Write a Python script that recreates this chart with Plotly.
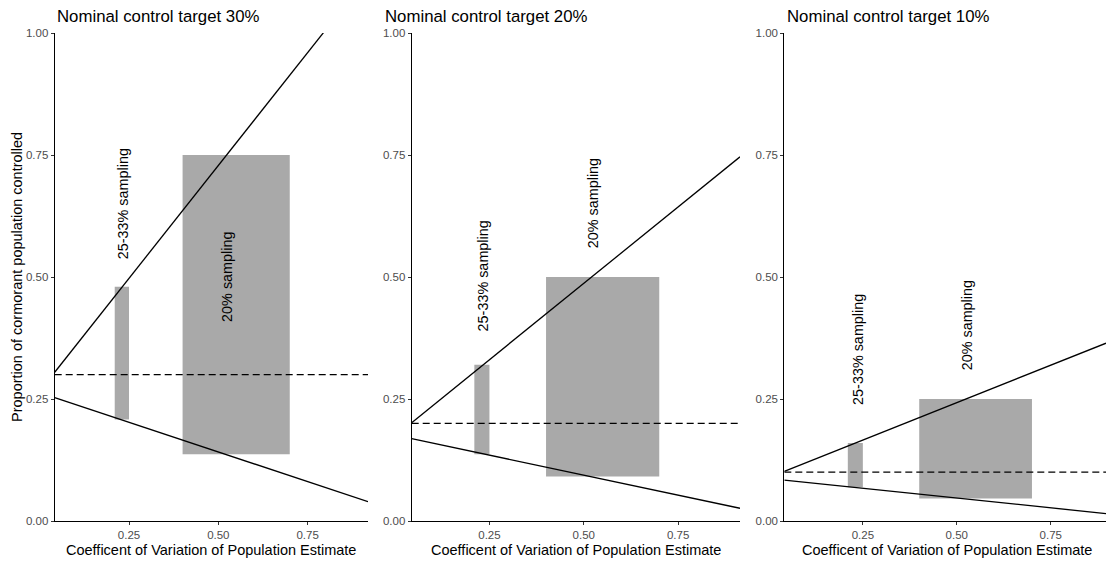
import numpy as np
import plotly.graph_objects as go

# ---- data -------------------------------------------------------------
targets = [0.30, 0.20, 0.10]
panel_titles = ["Nominal control target 30%", "Nominal control target 20%", "Nominal control target 10%"]

# upper / lower bound lines (intercept, slope) per panel
upper_intercept = [0.266, 0.174, 0.089]
upper_slope = [0.925, 0.626, 0.307]
lower_intercept = [0.263, 0.176, 0.087]
lower_slope = [-0.243, -0.164, -0.080]

# sampling ranges: x extent is shared, y extent per panel
narrow_x = [0.21, 0.25]
wide_x = [0.40, 0.70]
narrow_ymin = [0.208, 0.137, 0.069]
narrow_ymax = [0.48, 0.32, 0.16]
wide_ymin = [0.137, 0.091, 0.046]
wide_ymax = [0.75, 0.50, 0.25]

# label anchors
narrow_label = "25-33% sampling"
wide_label = "20% sampling"
narrow_label_x = [0.233, 0.234, 0.235]
narrow_label_y = [0.651, 0.502, 0.351]
wide_label_x = [0.524, 0.523, 0.526]
wide_label_y = [0.50, 0.652, 0.40]

x_ranges = [[0.042, 0.919], [0.044, 0.914], [0.041, 0.897]]
x_ticks = [0.25, 0.50, 0.75]
x_ticktext = ["0.25", "0.50", "0.75"]
y_ticks = [0.0, 0.25, 0.50, 0.75, 1.0]
y_ticktext = ["0.00", "0.25", "0.50", "0.75", "1.00"]

x_title = "Coefficent of Variation of Population Estimate"
y_title = "Proportion of cormorant population controlled"

# ---- layout geometry --------------------------------------------------
W, H = 1106, 561
x_domains = [[54.7 / W, 368 / W], [411.7 / W, 740 / W], [784.3 / W, 1.0]]
y_domain = [(H - 521) / H, (H - 33) / H]
title_left_px = [55, 383, 785]
x_title_center_px = [211, 576, 947]

FONT = "Liberation Sans, Arial, sans-serif"
GREY_FILL = "#A9A9A9"

fig = go.Figure()
shapes = []
annotations = []

for i in range(3):
    xa = "x" if i == 0 else f"x{i + 1}"
    ya = "y" if i == 0 else f"y{i + 1}"
    xs = np.array(x_ranges[i])

    # sampling boxes
    shapes.append(dict(type="rect", xref=xa, yref=ya, layer="below",
                       x0=narrow_x[0], x1=narrow_x[1],
                       y0=narrow_ymin[i], y1=narrow_ymax[i],
                       fillcolor=GREY_FILL, line=dict(width=0)))
    shapes.append(dict(type="rect", xref=xa, yref=ya, layer="below",
                       x0=wide_x[0], x1=wide_x[1],
                       y0=wide_ymin[i], y1=wide_ymax[i],
                       fillcolor=GREY_FILL, line=dict(width=0)))

    # bound lines spanning the panel
    for b, m in [(upper_intercept[i], upper_slope[i]), (lower_intercept[i], lower_slope[i])]:
        fig.add_trace(go.Scatter(x=xs, y=b + m * xs, mode="lines",
                                 line=dict(color="black", width=1.3),
                                 xaxis=xa, yaxis=ya, showlegend=False,
                                 hoverinfo="skip"))
    # nominal target
    fig.add_trace(go.Scatter(x=xs, y=[targets[i], targets[i]], mode="lines",
                             line=dict(color="black", width=1.2, dash="7px,4px"),
                             xaxis=xa, yaxis=ya, showlegend=False,
                             hoverinfo="skip"))

    # vertical labels
    annotations.append(dict(x=narrow_label_x[i], y=narrow_label_y[i], xref=xa, yref=ya,
                            text=narrow_label, textangle=-90, showarrow=False,
                            font=dict(family=FONT, size=14.4, color="black")))
    annotations.append(dict(x=wide_label_x[i], y=wide_label_y[i], xref=xa, yref=ya,
                            text=wide_label, textangle=-90, showarrow=False,
                            font=dict(family=FONT, size=14.4, color="black")))

    # panel title
    annotations.append(dict(x=title_left_px[i] / W, y=(H - 16) / H, xref="paper", yref="paper",
                            xanchor="left", yanchor="middle", text=panel_titles[i],
                            showarrow=False,
                            font=dict(family=FONT, size=16.8, color="black")))
    # x axis title
    annotations.append(dict(x=x_title_center_px[i] / W, y=(H - 550) / H, xref="paper", yref="paper",
                            xanchor="center", yanchor="middle", text=x_title,
                            showarrow=False,
                            font=dict(family=FONT, size=14.5, color="black")))

    axis_common = dict(showgrid=False, zeroline=False, showline=True,
                       linecolor="black", linewidth=1.1, automargin=False,
                       ticks="outside", ticklen=3, tickwidth=1.1, tickcolor="#333333",
                       tickfont=dict(family=FONT, size=11.5, color="#4D4D4D"))
    xkey = "xaxis" if i == 0 else f"xaxis{i + 1}"
    ykey = "yaxis" if i == 0 else f"yaxis{i + 1}"
    fig.update_layout(**{
        xkey: dict(domain=x_domains[i], range=x_ranges[i], anchor=ya,
                   tickvals=x_ticks, ticktext=x_ticktext, **axis_common),
        ykey: dict(domain=y_domain, range=[0, 1], anchor=xa,
                   tickvals=y_ticks, ticktext=y_ticktext, **axis_common),
    })

# y axis title on the left panel
annotations.append(dict(x=17 / W, y=(H - 277) / H, xref="paper", yref="paper",
                        xanchor="center", yanchor="middle", text=y_title, textangle=-90,
                        showarrow=False,
                        font=dict(family=FONT, size=14.5, color="black")))

fig.update_layout(width=W, height=H, margin=dict(l=0, r=0, t=0, b=0),
                  paper_bgcolor="white", plot_bgcolor="white",
                  shapes=shapes, annotations=annotations, showlegend=False)

fig.write_html("out.html")
